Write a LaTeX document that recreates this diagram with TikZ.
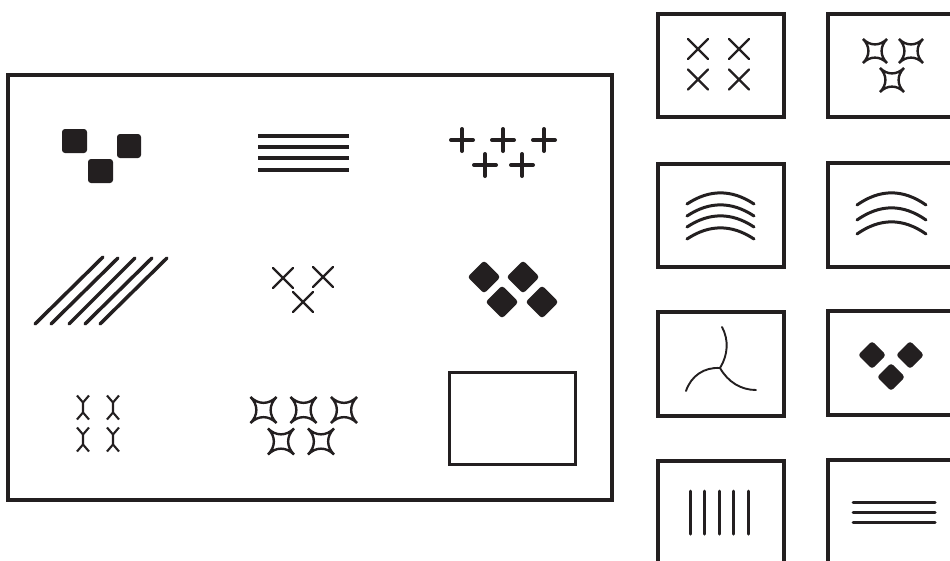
\documentclass[tikz,border=0pt]{standalone}
\definecolor{ink}{RGB}{35,31,32}
\tikzset{
  frame/.style={draw=ink, line width=3.3pt},
  rule/.style={draw=ink, line width=3.1pt},
  stroke/.style={draw=ink, line width=3.5pt, line cap=round},
  thin/.style={draw=ink, line width=2.4pt, line cap=round},
  hair/.style={draw=ink, line width=1.9pt, line cap=round},
  blob/.style={fill=ink, rounded corners=3pt},
}
\newcommand{\crossmark}[3]{\draw[thin] (#1-#3,#2-#3) -- (#1+#3,#2+#3) (#1-#3,#2+#3) -- (#1+#3,#2-#3);}
\newcommand{\plusmark}[2]{\draw[ink, line width=4pt, line cap=round] (#1-11,#2) -- (#1+11,#2) (#1,#2-11) -- (#1,#2+11);}
\newcommand{\starmark}[3]{\draw[ink, line width=2.4pt, line join=miter]
  (#1-#3,#2-#3) .. controls (#1-0.4*#3,#2-0.4*#3) and (#1+0.4*#3,#2-0.4*#3) .. (#1+#3,#2-#3)
  .. controls (#1+0.4*#3,#2-0.4*#3) and (#1+0.4*#3,#2+0.4*#3) .. (#1+#3,#2+#3)
  .. controls (#1+0.4*#3,#2+0.4*#3) and (#1-0.4*#3,#2+0.4*#3) .. (#1-#3,#2+#3)
  .. controls (#1-0.4*#3,#2+0.4*#3) and (#1-0.4*#3,#2-0.4*#3) .. cycle;}
\newcommand{\diamondmark}[3]{\fill[blob] (#1,#2-#3) -- (#1+#3,#2) -- (#1,#2+#3) -- (#1-#3,#2) -- cycle;}
\newcommand{\xymark}[2]{\draw[ink, line width=2.1pt, line join=miter]
  (#1-6,#2-12) -- (#1,#2-5) -- (#1+6,#2-12) (#1,#2-5) -- (#1,#2+5)
  (#1-6,#2+12) -- (#1,#2+5) -- (#1+6,#2+12);}
\newcommand{\arcmark}[4]{\draw[ink, line width=3pt, line cap=round]
  (#1,#3+#4) .. controls ({#1+(#2-#1)/3},#3-0.35*#4) and ({#2-(#2-#1)/3},#3-0.35*#4) .. (#2,#3+#4);}
\begin{document}
\begin{tikzpicture}[x=1pt,y=-1pt]
\useasboundingbox (0,0) rectangle (950,560);
\fill[white] (0,0) rectangle (950,560);
\clip (0,0) rectangle (950,560);

% main frame
\draw[frame] (8,75) rectangle (612,500);

% rounded squares
\fill[blob] (62,129) rectangle (87,153);
\fill[blob] (117,134) rectangle (141,158);
\fill[blob] (88,159) rectangle (113,183);

% four horizontal rules
\foreach \y in {136,147,158,170} \draw[rule] (258,\y) -- (349,\y);

% plus signs
\plusmark{462}{140}
\plusmark{503}{140}
\plusmark{544}{140}
\plusmark{485}{165}
\plusmark{522}{165}

% diagonal lines
\draw[stroke] (35,324) -- (103,257);
\draw[stroke] (51,324) -- (118,258);
\draw[stroke] (69,324) -- (135,258);
\draw[stroke] (85,324) -- (152,258);
\draw[stroke] (100,324) -- (167,258);

% three crosses
\crossmark{283}{278}{10}
\crossmark{323}{277}{10}
\crossmark{303}{302}{10}

% four diamonds
\diamondmark{484}{277}{16.5}
\diamondmark{523}{277}{16.5}
\diamondmark{502}{302}{16.5}
\diamondmark{542}{302}{16.5}

% XY glyphs
\xymark{83}{407.5}
\xymark{113}{407.5}
\xymark{83}{439.5}
\xymark{113}{439.5}

% five stars
\starmark{263.5}{410}{13}
\starmark{303.5}{410}{13}
\starmark{344}{410}{13}
\starmark{281}{441.5}{13}
\starmark{321}{441.5}{13}

% empty inner rectangle
\draw[ink, line width=3pt] (449,372) rectangle (575,464);

% right-hand boxes
\draw[frame] (658,14) rectangle (784,117);
\draw[frame] (828,14) rectangle (954,117);
\draw[frame] (658,164) rectangle (784,267);
\draw[frame] (828,163) rectangle (954,267);
\draw[frame] (658,312) rectangle (784,416);
\draw[frame] (828,311) rectangle (954,415);
\draw[frame] (658,461) rectangle (784,566);
\draw[frame] (828,460) rectangle (954,566);

% box A: four crosses
\crossmark{698}{49}{10}
\crossmark{739}{49}{10}
\crossmark{698}{79.5}{10}
\crossmark{739}{79.5}{10}

% box B: three stars
\starmark{875}{51}{12}
\starmark{911}{51}{12}
\starmark{892}{80}{12}

% box C: four arcs
\arcmark{687}{754}{193}{11}
\arcmark{687}{754}{205}{11}
\arcmark{687}{754}{216}{11}
\arcmark{687}{754}{228}{11}

% box D: three arcs
\arcmark{857}{926}{193}{12}
\arcmark{857}{926}{208}{12}
\arcmark{857}{926}{222}{12}

% box E: tripod
\coordinate (tc) at (720,368);
\draw[hair] (tc) .. controls (728,355) and (729,340) .. (722,327);
\draw[hair] (tc) .. controls (704,367) and (691,376) .. (686,391);
\draw[hair] (tc) .. controls (728,382) and (741,390) .. (756,390);

% box F: three diamonds
\diamondmark{872}{355}{14}
\diamondmark{910}{355}{14}
\diamondmark{891}{377}{14}

% box G: vertical lines
\foreach \x in {690,704.5,719,733.5,748} \draw[ink, line width=3pt, line cap=round] (\x,491) -- (\x,534);

% box H: horizontal lines
\foreach \y in {502,512,522} \draw[ink, line width=3pt, line cap=round] (853,\y) -- (935,\y);
\end{tikzpicture}
\end{document}
